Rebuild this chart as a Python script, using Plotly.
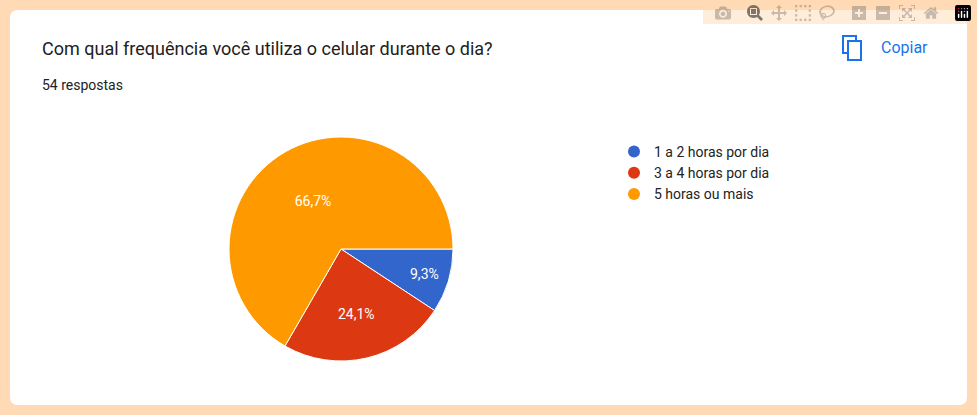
import plotly.graph_objects as go

labels = ["1 a 2 horas por dia", "3 a 4 horas por dia", "5 horas ou mais"]
values = [5, 13, 36]
colors = ["#3366cc", "#dc3912", "#ff9900"]
title = "Com qual frequência você utiliza o celular durante o dia?"
subtitle = "54 respostas"

W, H = 977, 415
fig = go.Figure()
fig.add_trace(go.Pie(labels=labels, values=values, sort=False, direction="clockwise",
                     rotation=90, marker=dict(colors=colors, line=dict(color="white", width=1)),
                     texttemplate="%{percent:.1%}", textposition="inside",
                     insidetextfont=dict(color="white", size=14, family="Roboto"),
                     showlegend=False, hoverinfo="skip",
                     domain=dict(x=[229/W, 453/W], y=[1-361/H, 1-137/H])))
for l, c in zip(labels, colors):
    fig.add_trace(go.Scatter(x=[None], y=[None], mode="markers", name=l,
                             marker=dict(color=c, size=13, symbol="circle")))

def rr(x0, y0, x1, y1, r):
    return (f"M{x0+r},{y0} L{x1-r},{y0} Q{x1},{y0} {x1},{y0+r} L{x1},{y1-r} Q{x1},{y1} {x1-r},{y1} "
            f"L{x0+r},{y1} Q{x0},{y1} {x0},{y1-r} L{x0},{y0+r} Q{x0},{y0} {x0+r},{y0} Z")

fig.update_layout(
    width=W, height=H, margin=dict(l=0, r=0, t=0, b=0), separators=",.",
    paper_bgcolor="#ffdab4", plot_bgcolor="rgba(0,0,0,0)",
    xaxis=dict(visible=False, range=[0, W], domain=[0, 1]),
    yaxis=dict(visible=False, range=[H, 0], domain=[0, 1]),
    legend=dict(x=614/W, y=1-136/H, xanchor="left", yanchor="top",
                font=dict(size=14, color="#222", family="Roboto"), itemsizing="constant",
                bgcolor="rgba(0,0,0,0)", tracegroupgap=0),
    shapes=[
        dict(type="path", xref="x", yref="y", path=rr(10, 10, 967, 405, 8),
             fillcolor="white", line=dict(width=0), layer="below"),
        dict(type="rect", xref="x", yref="y", x0=843, y0=36, x1=856, y1=53,
             line=dict(color="#1a73e8", width=2)),
        dict(type="rect", xref="x", yref="y", x0=848, y0=41, x1=861, y1=60,
             fillcolor="white", line=dict(color="#1a73e8", width=2)),
    ],
    annotations=[
        dict(text=title, x=40, y=48, xref="x", yref="y", xanchor="left", yanchor="middle",
             showarrow=False, font=dict(size=18, color="#202124", family="Roboto")),
        dict(text=subtitle, x=40, y=85, xref="x", yref="y", xanchor="left", yanchor="middle",
             showarrow=False, font=dict(size=14, color="#202124", family="Roboto")),
        dict(text="Copiar", x=879, y=47, xref="x", yref="y", xanchor="left", yanchor="middle",
             showarrow=False, font=dict(size=16, color="#1a73e8", family="Roboto")),
    ],
)
fig.write_html("out.html", post_script="document.body.style.margin='0';document.body.style.overflow='hidden';")
